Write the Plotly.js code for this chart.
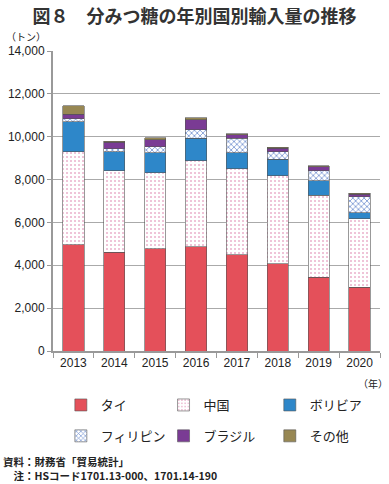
<!DOCTYPE html>
<html><head><meta charset="utf-8">
<script src="https://cdn.plot.ly/plotly-3.0.1.min.js"></script>
<style>html,body{margin:0;padding:0;background:#fff}#c{width:389px;height:484px}</style>
</head><body><div id="c"></div>
<script>
const years = ['2013','2014','2015','2016','2017','2018','2019','2020'];
const thai = [4970, 4600, 4780, 4860, 4490, 4070, 3440, 2980];
const china = [4340, 3820, 3550, 4010, 4020, 4100, 3840, 3190];
const bolivia = [1390, 880, 930, 1070, 740, 790, 670, 290];
const philippines = [150, 150, 270, 390, 670, 350, 470, 740];
const brazil = [200, 300, 340, 470, 170, 150, 180, 120];
const other = [400, 40, 90, 80, 40, 50, 50, 40];
const names = ['タイ','中国','ボリビア','フィリピン','ブラジル','その他'];
const yTicks = [0,2000,4000,6000,8000,10000,12000,14000];

const F = 'Liberation Sans, Arial, Noto Sans CJK JP, sans-serif';
const JF = 'Noto Sans CJK JP, sans-serif';
const line = {color:'#555', width:0.6};
const legIds = ['legend','legend2','legend3','legend4','legend5','legend6'];
function tr(i, y, marker){
  return {type:'bar', x:years, y:y, name:names[i], legend:legIds[i], marker:Object.assign({line:line}, marker), hoverinfo:'y'};
}
const data = [
  tr(0, thai, {color:'#E4505A'}),
  tr(1, china, {color:'#ffffff', pattern:{shape:'.', fgcolor:'#eab0cc', bgcolor:'#ffffff', size:4, solidity:0.2}}),
  tr(2, bolivia, {color:'#2E87C9'}),
  tr(3, philippines, {color:'#ffffff', pattern:{shape:'x', fgcolor:'#6f8fd0', bgcolor:'#ffffff', size:4, solidity:0.35}}),
  tr(4, brazil, {color:'#7A3B94'}),
  tr(5, other, {color:'#978753'})
];
// legend placement: 3 columns x 2 rows (paper coords)
const colX = [0.024, 0.338, 0.663];
const rowY = [-0.18, -0.283];
const layout = {
  width:389, height:484,
  margin:{l:53, r:9, t:51, b:133},
  paper_bgcolor:'#fff', plot_bgcolor:'#fff',
  barmode:'stack', bargap:0.48,
  font:{family:F, size:12, color:'#222'},
  title:{text:'<b>図８　分みつ糖の年別国別輸入量の推移</b>', x:0.5, xanchor:'center', y:0.966, yanchor:'middle', font:{family:JF, size:18, color:'#333'}},
  xaxis:{type:'category', showline:true, linecolor:'#999', linewidth:1.5, ticks:'outside', tickson:'boundaries', ticklen:5, tickcolor:'#999', tickfont:{family:F, size:12, color:'#222'}, fixedrange:true},
  yaxis:{range:[0,14000], tickvals:yTicks, ticktext:yTicks.map(v=>v.toLocaleString('en-US')), showline:true, linecolor:'#999', linewidth:2, ticks:'outside', ticklen:4, tickcolor:'#999', gridcolor:'#aaa', gridwidth:1, zeroline:false, tickfont:{family:F, size:12, color:'#222'}, fixedrange:true},
  showlegend:true,
  annotations:[
    {text:'（トン）', xref:'paper', yref:'paper', x:-0.15, y:1.047, xanchor:'left', yanchor:'middle', showarrow:false, font:{family:JF, size:10, color:'#222'}},
    {text:'（年）', xref:'paper', yref:'paper', x:1.03, y:-0.107, xanchor:'right', yanchor:'middle', showarrow:false, font:{family:JF, size:10, color:'#222'}},
    {text:'<b>資料：財務省「貿易統計」</b>', xref:'paper', yref:'paper', x:-0.16, y:-0.367, xanchor:'left', yanchor:'middle', showarrow:false, font:{family:JF, size:10.5, color:'#222'}, align:'left'},
    {text:'<b>　注：HSコード1701.13-000、1701.14-190</b>', xref:'paper', yref:'paper', x:-0.16, y:-0.416, xanchor:'left', yanchor:'middle', showarrow:false, font:{family:JF, size:10.5, color:'#222'}, align:'left'}
  ]
};
legIds.forEach((id, i) => {
  layout[id] = {x:colX[i % 3], y:rowY[Math.floor(i / 3)], xanchor:'left', yanchor:'middle', orientation:'v', bgcolor:'rgba(0,0,0,0)', font:{family:JF, size:13, color:'#222'}, itemwidth:30};
});
Plotly.newPlot('c', data, layout, {displayModeBar:false, staticPlot:true});
</script></body></html>
